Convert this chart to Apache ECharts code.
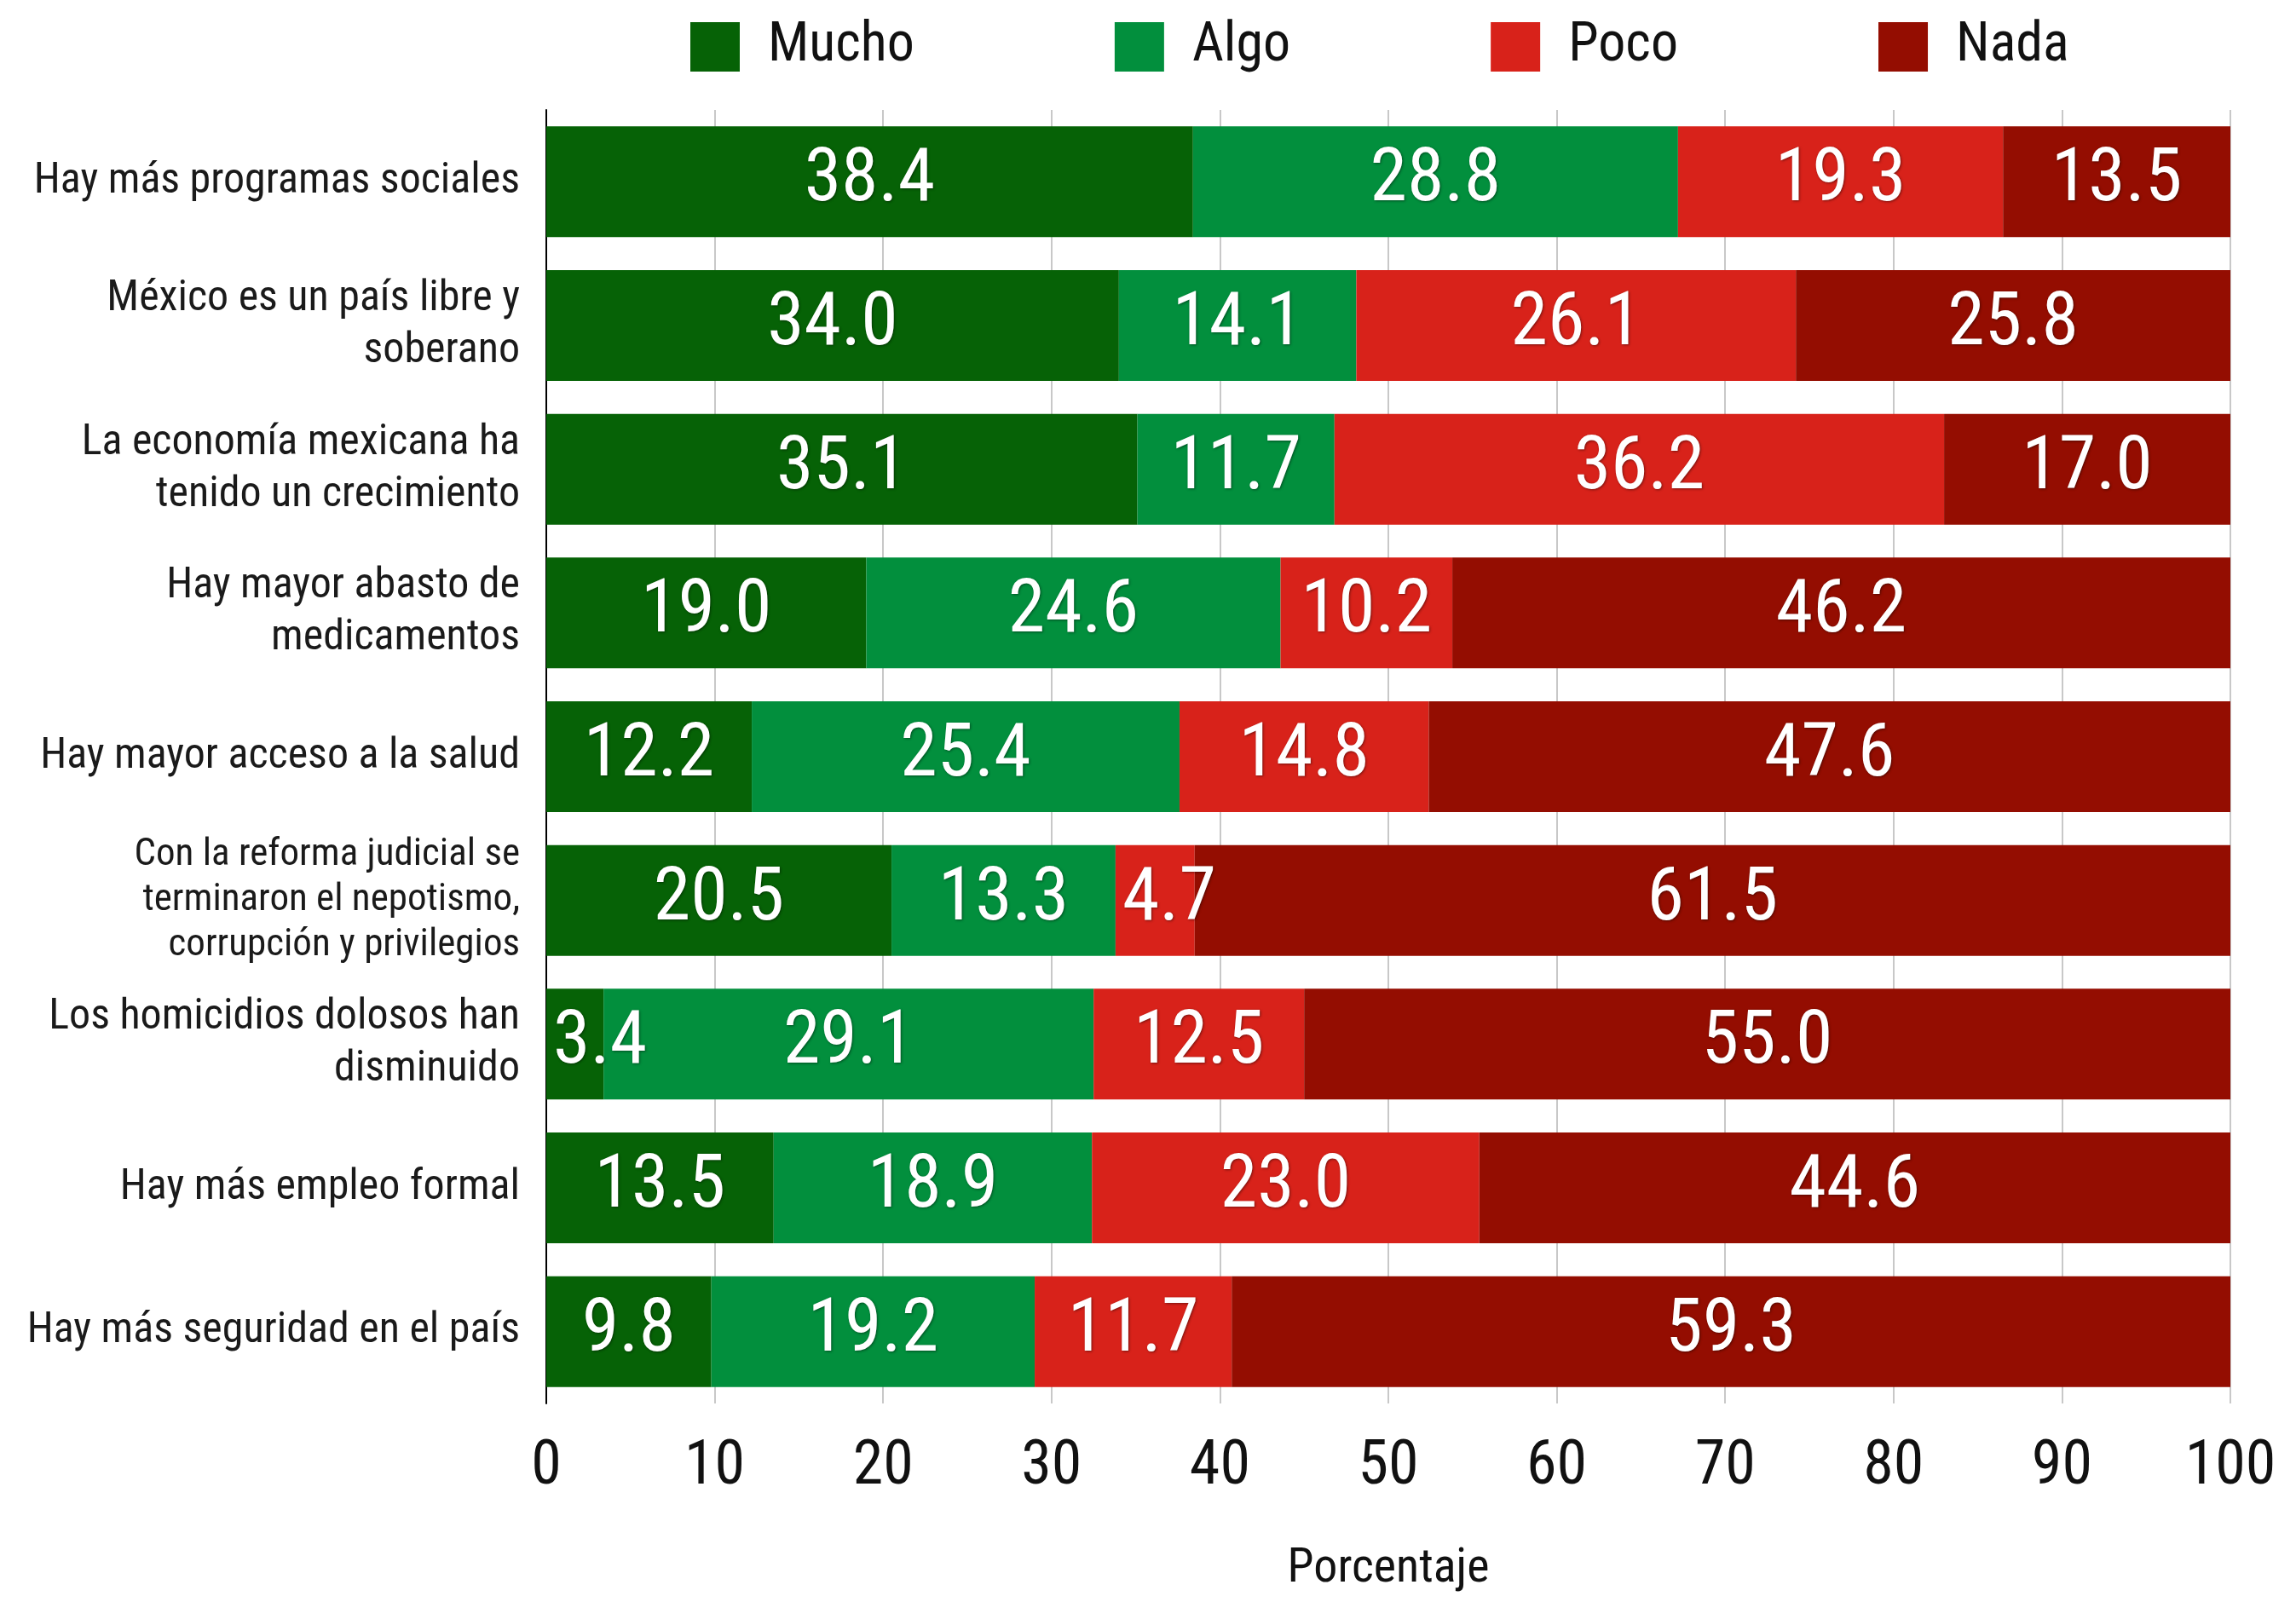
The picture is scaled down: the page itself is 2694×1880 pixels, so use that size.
<!DOCTYPE html>
<html>
<head>
<meta charset="utf-8">
<script src="https://cdn.jsdelivr.net/npm/echarts/dist/echarts.min.js"></script>
<style>
html,body{margin:0;padding:0;background:#fff;}
#chart{width:2694px;height:1880px;}
</style>
</head>
<body>
<div id="chart"></div>
<script>
const categories = [
  "Hay más programas sociales",
  "México es un país libre y\nsoberano",
  "La economía mexicana ha\ntenido un crecimiento",
  "Hay mayor abasto de\nmedicamentos",
  "Hay mayor acceso a la salud",
  "Con la reforma judicial se\nterminaron el nepotismo,\ncorrupción y privilegios",
  "Los homicidios dolosos han\ndisminuido",
  "Hay más empleo formal",
  "Hay más seguridad en el país"
];
const seriesNames = ["Mucho", "Algo", "Poco", "Nada"];
const mucho = [38.4, 34.0, 35.1, 19.0, 12.2, 20.5, 3.4, 13.5, 9.8];
const algo  = [28.8, 14.1, 11.7, 24.6, 25.4, 13.3, 29.1, 18.9, 19.2];
const poco  = [19.3, 26.1, 36.2, 10.2, 14.8, 4.7, 12.5, 23.0, 11.7];
const nada  = [13.5, 25.8, 17.0, 46.2, 47.6, 61.5, 55.0, 44.6, 59.3];
const colors = ["#066206", "#028f3d", "#d8221a", "#940d01"];
const axisTitle = "Porcentaje";

function avail(f){
  const c = document.createElement('canvas').getContext('2d');
  const s = 'abcdefghijklmMW0123456789';
  c.font = '72px monospace';
  const w0 = c.measureText(s).width;
  c.font = '72px "' + f + '", monospace';
  return Math.abs(c.measureText(s).width - w0) > 0.5;
}
const cands = ["Roboto Condensed", "Liberation Sans Narrow", "DejaVu Sans Condensed", "Roboto"];
let FONT = "Roboto";
for (const f of cands){ if (avail(f)) { FONT = f; break; } }
const FF = '"' + FONT + '", Roboto, sans-serif';

const LABEL_SIZE = 88;
const GRID_LEFT = 641, GRID_RIGHT = 77, W = 2694;
const plotW = W - GRID_LEFT - GRID_RIGHT;
const mctx = document.createElement('canvas').getContext('2d');
mctx.font = LABEL_SIZE + 'px ' + FF;

function buildData(arr){
  return arr.map(v => {
    const txt = v.toFixed(1);
    const barPx = v / 100 * plotW;
    const tw = mctx.measureText(txt).width;
    if (tw + 6 > barPx) {
      return { value: v, label: { position: 'insideLeft', distance: 8 } };
    }
    return v;
  });
}

const dataSets = [mucho, algo, poco, nada];
const chart = echarts.init(document.getElementById('chart'));
chart.setOption({
  backgroundColor: '#fff',
  animation: false,
  textStyle: { fontFamily: FF },
  legend: {
    top: 18, left: 805,
    itemWidth: 58, itemHeight: 58, itemGap: 235,
    icon: 'rect',
    textStyle: { fontSize: 64, color: '#111', fontFamily: FF, padding: [0,0,0,28] },
    data: seriesNames
  },
  grid: { left: GRID_LEFT, right: GRID_RIGHT, top: 129, bottom: 233, containLabel: false, outerBoundsMode: 'none' },
  xAxis: {
    type: 'value', min: 0, max: 100, interval: 10,
    name: axisTitle, nameLocation: 'middle', nameGap: 167,
    nameTextStyle: { fontSize: 56, color: '#111', fontFamily: FF },
    axisLine: { show: false }, axisTick: { show: false },
    axisLabel: { fontSize: 72, color: '#111', margin: 40, fontFamily: FF },
    splitLine: { show: true, lineStyle: { color: '#c8c8c8', width: 2 } }
  },
  yAxis: {
    type: 'category', inverse: true, data: categories,
    axisLine: { show: true, lineStyle: { color: '#000', width: 2 } },
    axisTick: { show: false },
    axisLabel: {
      margin: 31, fontSize: 50, lineHeight: 61, color: '#1a1a1a', fontFamily: FF, align: 'right',
      formatter: function(v){
        if (v.split('\n').length > 2) return '{s|' + v + '}';
        return v;
      },
      rich: { s: { fontSize: 45, lineHeight: 53, color: '#1a1a1a', fontFamily: FF, align: 'right' } }
    }
  },
  series: dataSets.map((d, i) => ({
    name: seriesNames[i], type: 'bar', stack: 'total', barWidth: 130,
    itemStyle: { color: colors[i] },
    label: {
      show: true, position: 'inside', color: '#fff', fontSize: LABEL_SIZE, fontWeight: 'normal', fontFamily: FF,
      textShadowColor: 'rgba(0,0,0,0.45)', textShadowBlur: 3, textShadowOffsetX: 1, textShadowOffsetY: 1,
      formatter: p => p.value.toFixed(1)
    },
    data: buildData(d)
  }))
});
</script>
</body>
</html>
